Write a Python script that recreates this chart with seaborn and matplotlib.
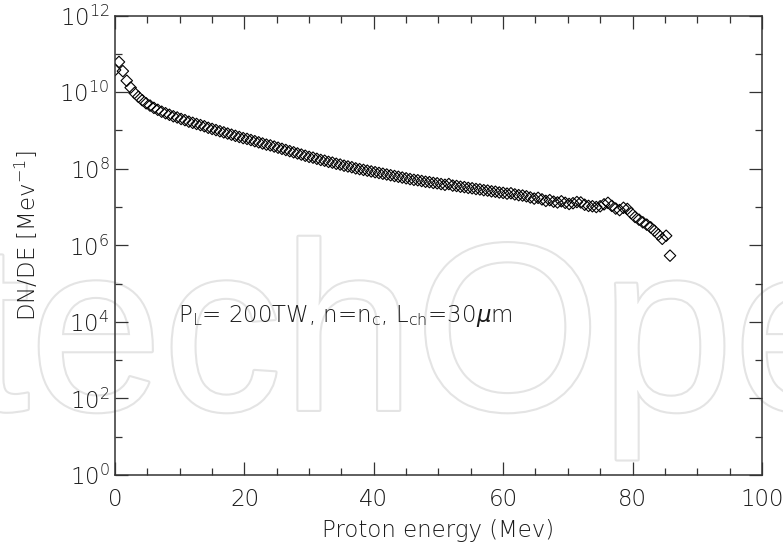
import numpy as np
import pandas as pd
import seaborn as sns
import matplotlib.pyplot as plt
from matplotlib import ticker, patheffects

# log10(dN/dE), one value per 0.6 MeV energy bin starting at 0
log_dnde = [
    10.58, 10.79, 10.55, 10.30, 10.12, 9.98, 9.88, 9.79, 9.71, 9.65,
    9.59, 9.54, 9.49, 9.45, 9.41, 9.37, 9.34, 9.30, 9.27, 9.23,
    9.20, 9.17, 9.14, 9.11, 9.07, 9.04, 9.01, 8.98, 8.95, 8.92,
    8.89, 8.86, 8.83, 8.80, 8.78, 8.75, 8.72, 8.69, 8.66, 8.63,
    8.61, 8.58, 8.55, 8.52, 8.49, 8.46, 8.43, 8.40, 8.37, 8.34,
    8.31, 8.29, 8.26, 8.23, 8.21, 8.18, 8.16, 8.13, 8.11, 8.08,
    8.06, 8.04, 8.01, 7.99, 7.97, 7.95, 7.93, 7.91, 7.89, 7.87,
    7.85, 7.83, 7.81, 7.79, 7.77, 7.75, 7.73, 7.71, 7.70, 7.68,
    7.66, 7.65, 7.63, 7.62, 7.60, 7.58, 7.60, 7.56, 7.55, 7.53,
    7.52, 7.50, 7.49, 7.47, 7.46, 7.44, 7.43, 7.41, 7.40, 7.38,
    7.37, 7.35, 7.36, 7.33, 7.31, 7.30, 7.28, 7.25, 7.22, 7.24,
    7.20, 7.16, 7.18, 7.14, 7.12, 7.15, 7.11, 7.08, 7.10, 7.13,
    7.12, 7.06, 7.03, 7.02, 7.00, 7.02, 7.07, 7.11, 7.03, 6.96,
    6.92, 6.98, 6.95, 6.84, 6.74, 6.67, 6.60, 6.54, 6.47, 6.38,
    6.28, 6.17, 6.25, 5.73,
]
bin_width = 0.6
x_ticks = [0, 20, 40, 60, 80, 100]
y_major = [1e0, 1e2, 1e4, 1e6, 1e8, 1e10, 1e12]
y_minor = [1e1, 1e3, 1e5, 1e7, 1e9, 1e11]

energy = np.round(np.arange(len(log_dnde)) * bin_width, 1)
df = pd.DataFrame({'energy': energy, 'dnde': 10.0 ** np.array(log_dnde)})

sns.set_theme(style='ticks')
plt.rcParams['font.family'] = ['DejaVu Sans']
plt.rcParams['font.weight'] = 'light'
plt.rcParams['axes.labelweight'] = 'light'
plt.rcParams['mathtext.fontset'] = 'custom'
plt.rcParams['mathtext.rm'] = 'DejaVu Sans:light'
plt.rcParams['mathtext.it'] = 'DejaVu Sans:italic:light'

txt = '#1a1a1a'
fig = plt.figure(figsize=(7.83, 5.48), dpi=100)

# faint watermark behind the plot
fig.text(-0.047, 0.252, 'techOpen', fontsize=172, color='white', zorder=-5,
         family='Liberation Sans', weight='normal', ha='left', va='baseline',
         path_effects=[patheffects.withStroke(linewidth=3, foreground='#e4e4e4')])

ax = fig.add_axes([0.147, 0.1332, 0.826, 0.8383])
ax.set_facecolor('none')

sns.scatterplot(data=df, x='energy', y='dnde', marker='D', s=34,
                facecolor='none', edgecolor='black', linewidth=0.8, ax=ax)

ax.set_yscale('log')
ax.set_xlim(0, 100)
ax.set_ylim(1, 1e12)
ax.set_xticks(x_ticks)
ax.xaxis.set_minor_locator(ticker.MultipleLocator(5))
ax.set_yticks(y_major)
ax.set_yticks(y_minor, minor=True)
ax.yaxis.set_major_formatter(ticker.LogFormatterMathtext())
ax.yaxis.set_minor_formatter(ticker.NullFormatter())

ax.tick_params(which='both', direction='in', top=True, right=True,
               color='#333333', width=0.9, labelsize=16.5, colors=txt)
ax.tick_params(which='major', length=9.5)
ax.tick_params(which='minor', length=5)
ax.tick_params(axis='x', pad=9)
ax.tick_params(axis='y', pad=4)
for sp in ax.spines.values():
    sp.set_color('#333333')
    sp.set_linewidth(1.1)

ax.set_xlabel('Proton energy (Mev)', fontsize=16.5, color=txt, labelpad=6)
ax.set_ylabel('DN/DE [Mev$^{-1}$]', fontsize=16.5, color=txt)
ax.yaxis.set_label_coords(-0.114, 0.522)

ax.text(9.8, 1e4, 'P$_\\mathregular{L}$= 200TW, n=n$_\\mathregular{c}$, '
        'L$_\\mathregular{ch}$=30$\\mu$m',
        fontsize=16.5, color=txt, ha='left', va='baseline')

fig.savefig('out.png', dpi=100)
